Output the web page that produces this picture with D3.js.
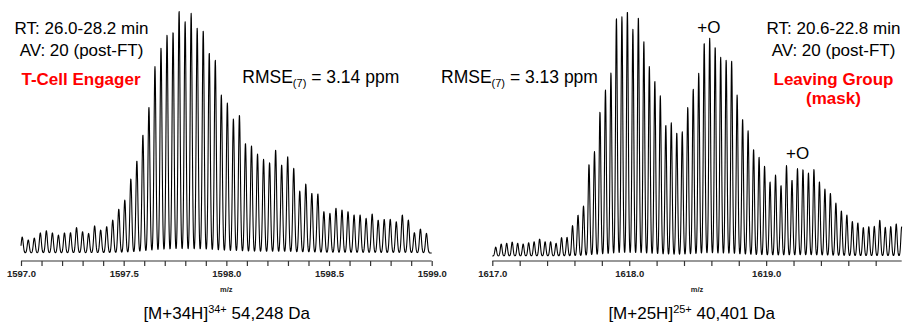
<!DOCTYPE html>
<html>
<head>
<meta charset="utf-8">
<script src="https://cdn.jsdelivr.net/npm/d3@7/dist/d3.min.js"></script>
<style>
  html, body { margin: 0; padding: 0; background: #fff; }
  svg { display: block; font-family: "Liberation Sans", Arial, Helvetica, sans-serif; }
</style>
</head>
<body>
<svg id="chart" width="906" height="324"></svg>
<script>
// ---------------- DATA ----------------
// Left spectrum: T-Cell Engager, [M+34H]34+
const leftDomain = [1597.0, 1599.0];
const leftTicks = [1597.0, 1597.1, 1597.2, 1597.3, 1597.4, 1597.5, 1597.6, 1597.7, 1597.8, 1597.9,
                   1598.0, 1598.1, 1598.2, 1598.3, 1598.4, 1598.5, 1598.6, 1598.7, 1598.8, 1598.9, 1599.0];
const leftTickLabels = [1597.0, 1597.5, 1598.0, 1598.5, 1599.0];
const leftFirstPeak = 1597.006;      // m/z of first isotope peak
const leftSpacing = 0.02938;         // isotope spacing (≈1.00235/34)
const leftHeights = [
  6.6, 5.4, 6.2, 8.3, 9.2, 8.3, 7.4, 8.3, 8.4, 10.5,
  8.8, 8.1, 11.2, 9.5, 10.9, 13.6, 18.1, 21.9, 30.6, 38.1,
  48.8, 60.2, 77.0, 84.6, 90.1, 91.4, 100, 95.6, 99.0, 92.9,
  91.9, 82.8, 79.8, 65.3, 62.0, 55.4, 57.0, 45.3, 44.3, 40.9,
  38.7, 37.3, 42.6, 36.4, 39.8, 35.0, 25.6, 28.5, 24.7, 24.4,
  17.1, 16.4, 18.5, 17.8, 17.1, 15.7, 15.7, 14.3, 16.1, 13.6,
  13.9, 13.9, 12.9, 15.7, 13.6, 8.4, 9.9, 8.1
];

// Right spectrum: Leaving Group (mask), [M+25H]25+
const rightDomain = [1617.0, 1619.99];
const rightTicks = [1617.0, 1617.2, 1617.4, 1617.6, 1617.8, 1618.0, 1618.2, 1618.4, 1618.6, 1618.8,
                    1619.0, 1619.2, 1619.4, 1619.6, 1619.8];
const rightTickLabels = [1617.0, 1618.0, 1619.0];
const rightFirstPeak = 1617.025;
const rightSpacing = 0.04007;        // isotope spacing (≈1.00235/25)
const rightHeights = [
  3.6, 4.9, 5.2, 5.7, 5.2, 4.9, 5.4, 5.8, 6.9, 5.8,
  5.8, 5.2, 7.5, 7.6, 12.4, 16.7, 20.4, 37.4, 42.6, 58.8,
  67.8, 74.8, 97.2, 97.6, 100, 92.5, 97.4, 87.5, 77.4, 71.4,
  65.4, 53.5, 54.4, 50.3, 50.7, 60.7, 68.2, 74.6, 87.1, 88.9,
  85.4, 81.1, 80.0, 79.6, 65.7, 55.9, 51.1, 43.6, 40.3, 36.7,
  30.2, 33.1, 28.8, 36.9, 31.0, 35.7, 35.3, 33.9, 35.3, 30.3,
  27.3, 25.7, 21.6, 18.4, 16.7, 14.1, 13.5, 11.6, 12.0, 12.1,
  14.6, 11.7, 12.0, 13.1, 12.0
];

// Annotations
const leftInfo = ["RT: 26.0-28.2 min", "AV: 20 (post-FT)"];
const leftName = ["T-Cell Engager"];
const leftRmse = "3.14";
const leftIon = { charge: "34", mass: "54,248" };
const rightInfo = ["RT: 20.6-22.8 min", "AV: 20 (post-FT)"];
const rightName = ["Leaving Group", "(mask)"];
const rightRmse = "3.13";
const rightIon = { charge: "25", mass: "40,401" };
const oxLabels = [1618.582, 1619.23];   // m/z where the "+O" annotations sit (right)

// ---------------- DRAW ----------------
const svg = d3.select("#chart");

function drawPanel(cfg) {
  const g = svg.append("g");
  const x = d3.scaleLinear().domain(cfg.domain).range(cfg.xRange);
  const y = d3.scaleLinear().domain([0, 100]).range(cfg.yRange);
  const peaks = cfg.heights.map((h, i) => ({ mz: cfg.first + i * cfg.spacing, h }));
  const sigma = cfg.sigma;
  const n = Math.round((cfg.xRange[1] - cfg.xRange[0]) * 5);
  const pts = d3.range(n + 1).map(k => {
    const mz = cfg.domain[0] + (cfg.domain[1] - cfg.domain[0]) * k / n;
    let v = 0;
    for (const p of peaks) {
      const d = (mz - p.mz) / sigma;
      if (Math.abs(d) < 6) v += p.h * Math.exp(-0.5 * d * d);
    }
    return [mz, v];
  });
  g.append("path")
    .attr("d", d3.line().x(d => x(d[0])).y(d => y(d[1]))(pts))
    .attr("fill", "none")
    .attr("stroke", "#000")
    .attr("stroke-width", 1.1)
    .attr("stroke-linejoin", "round");

  // axis
  const axis = d3.axisBottom(x)
    .tickValues(cfg.ticks)
    .tickSize(5)
    .tickFormat(d => cfg.labels.some(l => Math.abs(l - d) < 1e-6) ? d3.format(".1f")(d) : "");
  const ag = g.append("g").attr("transform", `translate(0,${cfg.axisY})`).call(axis);
  ag.select(".domain").attr("d", `M${cfg.xRange[0]},0H${cfg.xRange[1]}`).attr("stroke", "#333").attr("stroke-width", 1.2);
  ag.selectAll(".tick line").attr("stroke", "#333").attr("stroke-width", 1.2);
  ag.selectAll(".tick text")
    .attr("y", 9)
    .attr("dy", "0.71em")
    .attr("fill", "#222")
    .style("font-family", "'Liberation Sans', Arial, sans-serif")
    .style("font-size", "9.5px")
    .style("font-weight", "bold");

  g.append("text")
    .attr("x", (cfg.xRange[0] + cfg.xRange[1]) / 2)
    .attr("y", 292)
    .attr("text-anchor", "middle")
    .attr("fill", "#222")
    .style("font-size", "7.5px")
    .style("font-weight", "bold")
    .text("m/z");

  return { x, y, g };
}

const L = drawPanel({
  domain: leftDomain, xRange: [21, 431.7], yRange: [253, 11], axisY: 261,
  first: leftFirstPeak, spacing: leftSpacing, heights: leftHeights, sigma: 0.0048,
  ticks: leftTicks, labels: leftTickLabels
});
const R = drawPanel({
  domain: rightDomain, xRange: [492.3, 901.7], yRange: [256, 11], axisY: 261,
  first: rightFirstPeak, spacing: rightSpacing, heights: rightHeights, sigma: 0.0064,
  ticks: rightTicks, labels: rightTickLabels
});

function textLines(lines, cx, y0, dy, opts) {
  lines.forEach((t, i) => {
    svg.append("text")
      .attr("x", cx).attr("y", y0 + i * dy)
      .attr("text-anchor", "middle")
      .attr("fill", opts.color || "#000")
      .style("font-size", opts.size + "px")
      .style("font-weight", opts.bold ? "bold" : "normal")
      .text(t);
  });
}

// Left annotations
textLines(leftInfo, 81.5, 33.5, 22.5, { size: 17 });
textLines(leftName, 81, 85, 19, { size: 17, bold: true, color: "#ff0000" });
// Right annotations
textLines(rightInfo, 833.5, 33.5, 22.5, { size: 17 });
textLines(rightName, 833.5, 85, 19, { size: 17, bold: true, color: "#ff0000" });

function rmse(xs, val) {
  const t = svg.append("text").attr("x", xs).attr("y", 83.3).style("font-size", "17.5px").attr("fill", "#000");
  t.append("tspan").text("RMSE");
  t.append("tspan").attr("dy", 3.5).style("font-size", "11px").text("(7)");
  t.append("tspan").attr("dy", -3.5).text(" = " + val + " ppm");
}
rmse(242.3, leftRmse);
rmse(441, rightRmse);

function ion(cx, info) {
  const t = svg.append("text").attr("x", cx).attr("y", 319.3).attr("text-anchor", "middle")
    .style("font-size", "17px").attr("fill", "#000");
  t.append("tspan").text(`[M+${info.charge}H]`);
  t.append("tspan").attr("dy", -6).style("font-size", "11px").text(`${info.charge}+`);
  t.append("tspan").attr("dy", 6).text(` ${info.mass} Da`);
}
ion(226.7, leftIon);
ion(691.7, rightIon);

// "+O" labels
const oxY = [33.3, 159.3];
oxLabels.forEach((mz, i) => {
  svg.append("text")
    .attr("x", R.x(mz)).attr("y", oxY[i])
    .attr("text-anchor", "middle")
    .style("font-size", "17px")
    .attr("fill", "#000")
    .text("+O");
});
</script>
</body>
</html>
